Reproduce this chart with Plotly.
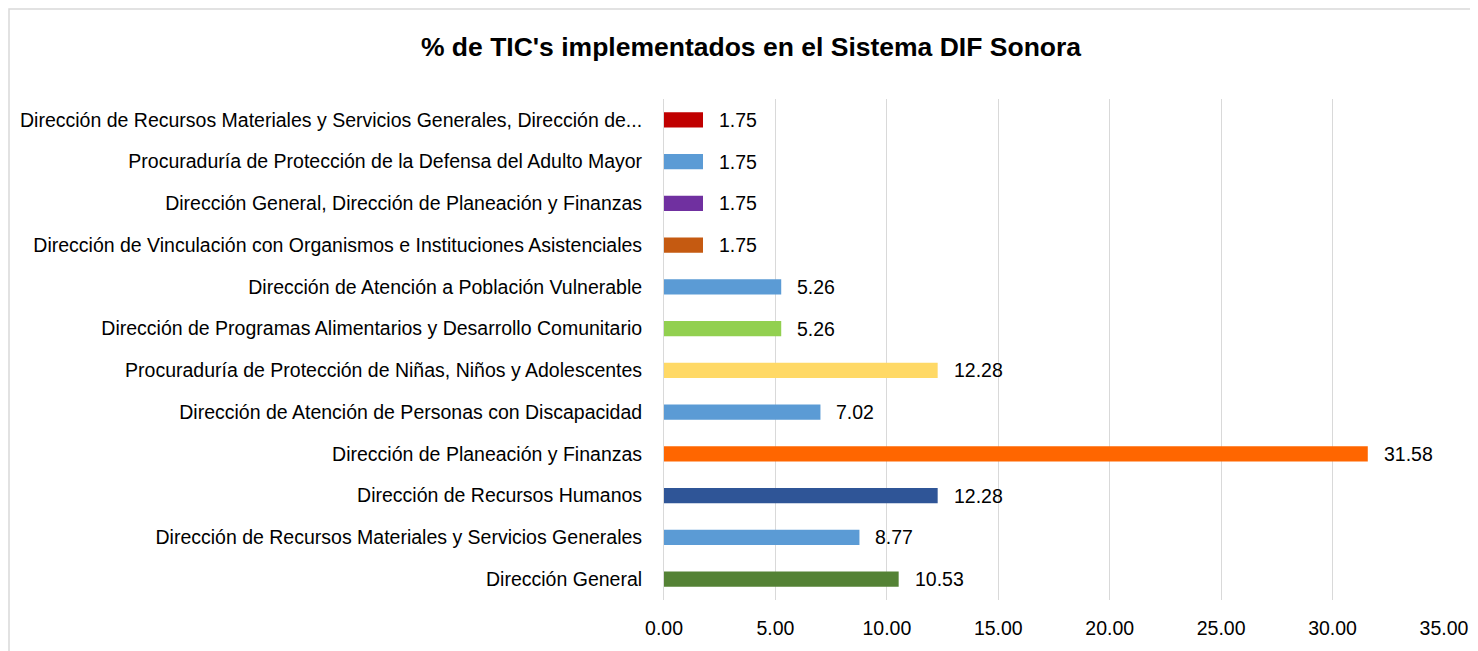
import plotly.graph_objects as go

categories = [
    "Dirección General",
    "Dirección de Recursos Materiales y Servicios Generales",
    "Dirección de Recursos Humanos",
    "Dirección de Planeación y Finanzas",
    "Dirección de Atención de Personas con Discapacidad",
    "Procuraduría de Protección de Niñas, Niños y Adolescentes",
    "Dirección de Programas Alimentarios y Desarrollo Comunitario",
    "Dirección de Atención a Población Vulnerable",
    "Dirección de Vinculación con Organismos e Instituciones Asistenciales",
    "Dirección General, Dirección de Planeación y Finanzas",
    "Procuraduría de Protección de la Defensa del Adulto Mayor",
    "Dirección de Recursos Materiales y Servicios Generales, Dirección de...",
]
values = [10.53, 8.77, 12.28, 31.58, 7.02, 12.28, 5.26, 5.26, 1.75, 1.75, 1.75, 1.75]
colors = ["#548235", "#5B9BD5", "#2F5597", "#FF6600", "#5B9BD5", "#FFD966",
          "#92D050", "#5B9BD5", "#C55A11", "#7030A0", "#5B9BD5", "#C00000"]
tick_vals = [0, 5, 10, 15, 20, 25, 30, 35]
tick_text = ["0.00", "5.00", "10.00", "15.00", "20.00", "25.00", "30.00", "35.00"]

FONT = "Liberation Sans Narrow, Arial Narrow, Liberation Sans, Arial, sans-serif"

W, H = 1470, 643
L, R, T, B = 656, 34, 91, 51
PW = W - L - R
PH = H - T - B

fig = go.Figure()
fig.add_trace(go.Bar(
    x=values, y=categories, orientation="h",
    marker=dict(color=colors, line=dict(width=0)),
    width=0.36,
    hoverinfo="x+y",
))

for v, c in zip(values, categories):
    fig.add_annotation(x=v, y=c, text=f"{v:.2f}", showarrow=False,
                       xanchor="left", xshift=14,
                       font=dict(family=FONT, size=19.5, color="#000000"))

fig.add_shape(type="rect", xref="paper", yref="paper",
              x0=(1 - L) / PW, x1=2.0, y0=-0.5, y1=(H - B - 1) / PH,
              line=dict(color="#D9D9D9", width=1.5), layer="below")

fig.update_layout(
    width=W, height=H,
    margin=dict(l=L, r=R, t=T, b=B, autoexpand=False),
    paper_bgcolor="white", plot_bgcolor="white",
    showlegend=False,
    title=dict(text="<b>% de TIC's implementados en el Sistema DIF Sonora</b>",
               x=743 / W, xanchor="center", y=1 - 39 / H, yanchor="middle",
               font=dict(family=FONT, size=26.5, color="#000000")),
    font=dict(family=FONT, size=19.5, color="#000000"),
    xaxis=dict(range=[0, 35], tickvals=tick_vals, ticktext=tick_text,
               showgrid=True, gridcolor="#D9D9D9", gridwidth=1,
               zeroline=False, showline=False, ticks="outside", ticklen=11,
               tickcolor="rgba(0,0,0,0)", tickfont=dict(size=19.5),
               automargin=False, fixedrange=True),
    yaxis=dict(categoryorder="array", categoryarray=categories,
               showline=True, linecolor="#D9D9D9", linewidth=1,
               ticks="outside", ticklen=17, tickcolor="rgba(0,0,0,0)",
               tickfont=dict(size=19.5), showgrid=False,
               automargin=False, fixedrange=True),
    bargap=0.64,
)

fig.write_html("out.html")
